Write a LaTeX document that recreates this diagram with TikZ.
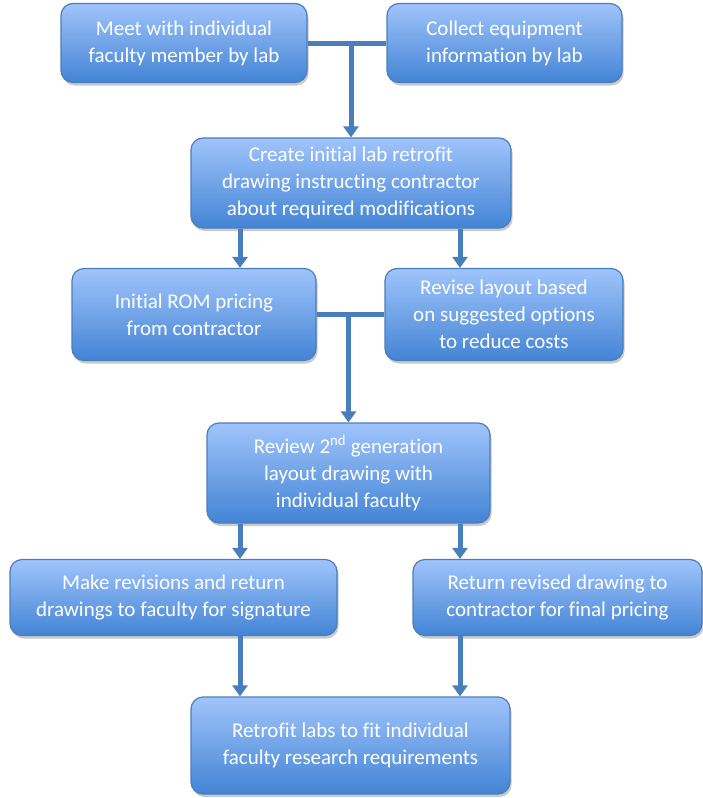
\documentclass[tikz,border=0pt]{standalone}
\usepackage{fontspec}
\setmainfont{Carlito}[Ligatures=NoCommon]
\usetikzlibrary{arrows.meta,shadows,calc}

\definecolor{boxtop}{HTML}{A0C4FB}
\definecolor{boxbot}{HTML}{4384D5}
\definecolor{boxline}{HTML}{4A7EBB}
\definecolor{linkblue}{HTML}{4A7EBB}

\tikzset{
	stepbox/.style={draw=boxline, line width=1.2pt, rounded corners=12pt,
		top color=boxtop, bottom color=boxbot, text=white, align=center,
		font=\fontsize{21}{27}\selectfont, inner sep=0pt,
		drop shadow={shadow xshift=1.5pt, shadow yshift=-3pt, opacity=0.35, fill=black!60}},
	link/.style={draw=linkblue, line width=5pt},
	arrow/.style={link, -{Triangle[width=15pt,length=11pt]}},
}

\begin{document}
\begin{tikzpicture}[x=1pt, y=-1pt]

% frame %{{{1

	\useasboundingbox (0,0) rectangle (703,798);

% columns %{{{1

	\coordinate (colL) at (240,0);
	\coordinate (colR) at (460,0);

% boxes %{{{1

	\node[stepbox, minimum width=246pt, minimum height=79pt] (meet) at (184,43)
		{Meet with individual\\faculty member by lab};
	\node[stepbox, minimum width=235pt, minimum height=79pt] (collect) at (504.5,43)
		{Collect equipment\\information by lab};

	\node[stepbox, minimum width=320pt, minimum height=90pt] (create) at (351,183)
		{Create initial lab retrofit\\drawing instructing contractor\\about required modifications};

	\node[stepbox, minimum width=244pt, minimum height=92pt] (rom) at (194,314.5)
		{Initial ROM pricing\\from contractor};
	\node[stepbox, minimum width=238pt, minimum height=92pt] (revise) at (504,314.5)
		{Revise layout based\\on suggested options\\to reduce costs};

	\node[stepbox, minimum width=283pt, minimum height=100pt] (review) at (348.5,473)
		{Review 2\textsuperscript{nd} generation\\layout drawing with\\individual faculty};

	\node[stepbox, minimum width=327pt, minimum height=76pt] (mkrev) at (173.5,597.5)
		{Make revisions and return\\drawings to faculty for signature};
	\node[stepbox, minimum width=289pt, minimum height=76pt] (retdraw) at (557.5,597.5)
		{Return revised drawing to\\contractor for final pricing};

	\node[stepbox, minimum width=319pt, minimum height=97pt] (retrofit) at (350.5,745.5)
		{Retrofit labs to fit individual\\faculty research requirements};

% connectors %{{{1

	\draw[link] (meet.east) -- (collect.west);
	\draw[arrow] (meet.east -| create.north) -- (create.north);

	\draw[arrow] (create.south -| colL) -- (rom.north -| colL);
	\draw[arrow] (create.south -| colR) -- (revise.north -| colR);

	\draw[link] (rom.east) -- (revise.west);
	\draw[arrow] (rom.east -| review.north) -- (review.north);

	\draw[arrow] (review.south -| colL) -- (mkrev.north -| colL);
	\draw[arrow] (review.south -| colR) -- (retdraw.north -| colR);

	\draw[arrow] (mkrev.south -| colL) -- (retrofit.north -| colL);
	\draw[arrow] (retdraw.south -| colR) -- (retrofit.north -| colR);

% closing %{{{1

\end{tikzpicture}
\end{document}
